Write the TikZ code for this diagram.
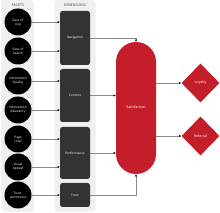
\documentclass[tikz,border=0pt]{standalone}
\usepackage{fontspec}
\setmainfont{Open Sans}
\usetikzlibrary{shapes.geometric,arrows.meta}
\definecolor{panelgray}{HTML}{F0F0F0}
\definecolor{boxgray}{HTML}{333333}
\definecolor{satred}{HTML}{C41E2A}
\definecolor{linegray}{HTML}{8A8A8A}
\tikzset{
  panel/.style={fill=panelgray, draw=none, rounded corners=4pt},
  facet/.style={circle, fill=black, minimum size=27pt, inner sep=0pt, text=white, font=\fontsize{3.2}{3.8}\selectfont, align=center},
  dimbox/.style={fill=boxgray, rounded corners=2.5pt, minimum width=30pt, inner sep=0pt, text=white, font=\fontsize{3.2}{3.8}\selectfont, align=center},
  header/.style={font=\fontsize{3.6}{4}\selectfont, text=black!75},
  outcome/.style={diamond, fill=satred, minimum width=38pt, minimum height=39pt, inner sep=0pt, text=white, font=\fontsize{3.6}{4}\selectfont},
  conn/.style={draw=linegray, line width=0.5pt, -{Latex[length=2.2pt,width=2.2pt,black]}}
}
\begin{document}
\begin{tikzpicture}[x=1pt,y=-1pt]
\useasboundingbox (0,0) rectangle (220,213);
\fill[white] (0,0) rectangle (220,213);
% panels
\node[panel, minimum width=33pt, minimum height=212pt, inner sep=0pt] (fpanel) at (17.5,106) {};
\node[panel, minimum width=41pt, minimum height=212pt, inner sep=0pt] (dpanel) at (75,106) {};
\node[header] (fhead) at (18,5) {FACETS};
\node[header] (dhead) at (75,5) {DIMENSIONS};
% facets
\node[facet] (f1) at (18,22) {Ease of\\Use};
\node[facet] (f2) at (18,51) {Ease of\\Search};
\node[facet] (f3) at (18,81) {Information\\Quality};
\node[facet] (f4) at (18,110) {Information\\Relevancy};
\node[facet] (f5) at (18,139) {Page\\Load};
\node[facet] (f6) at (18,167) {Visual\\Appeal};
\node[facet] (f7) at (18,195) {Trust-\\worthiness};
% dimensions
\node[dimbox, minimum height=54pt] (nav) at (75,38) {Navigation};
\node[dimbox, minimum height=53pt] (con) at (75,95.5) {Content};
\node[dimbox, minimum height=52pt] (per) at (75,153) {Performance};
\node[dimbox, minimum height=24pt] (tru) at (75,195) {Trust};
% satisfaction
\fill[satred] (116,62) arc[start angle=180, end angle=360, radius=20] -- (156,154) arc[start angle=0, end angle=180, radius=20] -- cycle;
\node[inner sep=0pt, minimum width=40pt, minimum height=132pt] (sat) at (136,108) {};
\node[text=white, font=\fontsize{3.6}{4}\selectfont] (satlab) at (136,107.5) {Satisfaction};
% outcomes
\node[outcome] (loy) at (200.5,83) {Loyalty};
\node[outcome] (ref) at (200.5,136) {Referral};
% connectors facets -> dimensions
\draw[conn] (f1.east) -- (f1.east -| nav.west);
\draw[conn] (f2.east) -- (f2.east -| nav.west);
\draw[conn] (f3.east) -- (f3.east -| con.west);
\draw[conn] (f4.east) -- (f4.east -| con.west);
\draw[conn] (f5.east) -- (f5.east -| per.west);
\draw[conn] (f6.east) -- (f6.east -| per.west);
\draw[conn] (f7.east) -- (f7.east -| tru.west);
% dimensions -> satisfaction
\draw[conn] (nav.east) -| (sat.north);
\draw[conn] (con.east) -- (con.east -| sat.west);
\draw[conn] (per.east) -- (per.east -| sat.west);
\draw[conn] (tru.east) -| (sat.south);
% satisfaction -> outcomes
\draw[conn] (loy.west -| sat.east) -- (loy.west);
\draw[conn] (ref.west -| sat.east) -- (ref.west);
\end{tikzpicture}
\end{document}
